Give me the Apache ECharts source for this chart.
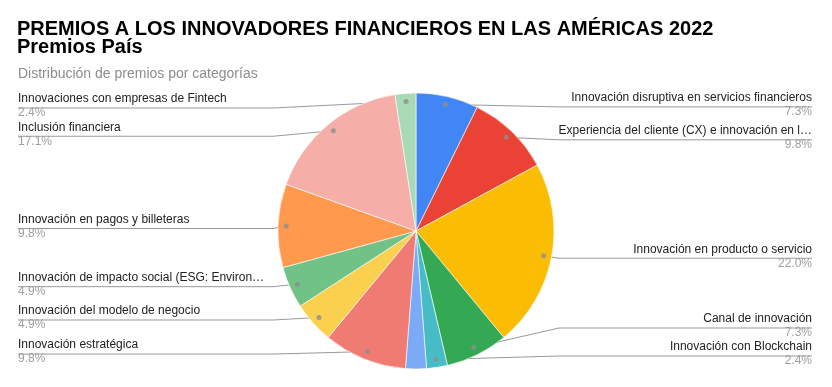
<!DOCTYPE html>
<html>
<head>
<meta charset="utf-8">
<script src="https://cdn.jsdelivr.net/npm/echarts@6/dist/echarts.min.js"></script>
<style>
  html, body { margin: 0; padding: 0; background: #fff; }
  #chart { width: 832px; height: 387px; }
</style>
</head>
<body>
<div id="chart"></div>
<script>
// ---- data ----
const categories = [
  'Innovación disruptiva en servicios financieros',
  'Experiencia del cliente (CX) e innovación en l…',
  'Innovación en producto o servicio',
  'Canal de innovación',
  'Innovación con Blockchain',
  'Otras innovaciones',
  'Innovación estratégica',
  'Innovación del modelo de negocio',
  'Innovación de impacto social (ESG: Environ…',
  'Innovación en pagos y billeteras',
  'Inclusión financiera',
  'Innovaciones con empresas de Fintech'
];
const values = [3, 4, 9, 3, 1, 1, 4, 2, 2, 4, 7, 1];
const hiddenLabel = [false, false, false, false, false, true, false, false, false, false, false, false];
const colors = ['#4285F4', '#EA4335', '#FBBC04', '#34A853', '#46BDC6', '#7BAAF7',
                '#F07B72', '#FCD04F', '#71C287', '#FF994D', '#F6AEA9', '#A8DAB5'];
const titleLines = ['PREMIOS A LOS INNOVADORES FINANCIEROS EN LAS AMÉRICAS 2022', 'Premios País'];
const subtitle = 'Distribución de premios por categorías';

// ---- layout constants ----
const CX = 416, CY = 231, R = 138, DOT_R = 130;
const LEFT = 18, RIGHT = 20;
const NAME_LH = 15, PCT_LH = 13;
const FONT = '"Liberation Sans", Arial, sans-serif';
// label zones: labels crowded near the top / bottom are laid out inside a bounded band
const LABEL_ZONES = [
  { members: [10, 11], top: 92, bottom: 0 },
  { members: [3, 4], top: 0, bottom: 19 },
  { members: null, top: 0, bottom: 0 }   // everything else
];

const total = values.reduce((a, b) => a + b, 0);
const pct = v => (v / total * 100).toFixed(1) + '%';

const pieData = categories.map((c, i) => ({ name: c, value: values[i], itemStyle: { color: colors[i] } }));

// dot positions (mid-angle of each slice) via polar axis
let cum = 0;
const dotData = [];
values.forEach((v, i) => {
  if (!hiddenLabel[i]) dotData.push([DOT_R, cum + v / 2]);
  cum += v;
});

const zoned = new Set();
LABEL_ZONES.forEach(z => z.members && z.members.forEach(m => zoned.add(m)));

function labelSeries(zone) {
  const inZone = i => !hiddenLabel[i] && (zone.members ? zone.members.includes(i) : !zoned.has(i));
  return {
    type: 'pie',
    left: LEFT, top: zone.top, right: RIGHT, bottom: zone.bottom,
    center: [CX - LEFT, CY - zone.top], radius: DOT_R,
    startAngle: 90, clockwise: true,
    silent: true,
    itemStyle: { color: 'rgba(0,0,0,0)' },
    emphasis: { disabled: true },
    label: {
      position: 'outer', alignTo: 'edge', edgeDistance: 0, distanceToLabelLine: 0,
      formatter: p => '{n|' + p.name + '}\n{p|' + pct(p.value) + '}',
      rich: {
        n: { fontFamily: FONT, fontSize: 12, color: '#222222', lineHeight: NAME_LH },
        p: { fontFamily: FONT, fontSize: 12, color: '#9e9e9e', lineHeight: PCT_LH }
      }
    },
    labelLine: { show: true, length: 0, length2: 0, lineStyle: { color: '#999999', width: 1 } },
    labelLayout: function (p) {
      const pts = p.labelLinePoints;
      if (!pts) return {};
      const r = p.labelRect;
      const isLeft = r.x + r.width / 2 < CX;
      const yLine = r.y + NAME_LH;
      const colX = isLeft ? CX - R - 5 : CX + R + 5;
      const farX = isLeft ? r.x : r.x + r.width;
      return { labelLinePoints: [pts[0], [colX, yLine], [farX, yLine]] };
    },
    data: categories.map((c, i) => ({
      name: c, value: values[i],
      label: { show: inZone(i) },
      labelLine: { show: inZone(i) }
    }))
  };
}

const chart = echarts.init(document.getElementById('chart'), null, { renderer: 'canvas' });
chart.setOption({
  animation: false,
  backgroundColor: '#fff',
  textStyle: { fontFamily: FONT },
  title: [
    {
      text: titleLines.join('\n'), left: 17, top: 20, padding: 0,
      textStyle: { fontFamily: FONT, fontSize: 20, fontWeight: 'bold', color: '#000', lineHeight: 18 }
    },
    {
      text: subtitle, left: 18, top: 67, padding: 0,
      textStyle: { fontFamily: FONT, fontSize: 14, fontWeight: 'normal', color: '#8c8c8c', lineHeight: 14 }
    }
  ],
  polar: { center: [CX, CY], radius: R },
  angleAxis: { type: 'value', min: 0, max: total, startAngle: 90, clockwise: true, show: false },
  radiusAxis: { type: 'value', min: 0, max: R, show: false },
  series: [
    {
      type: 'pie',
      left: 0, top: 0, right: 0, bottom: 0,
      center: [CX, CY], radius: R,
      startAngle: 90, clockwise: true,
      silent: true,
      label: { show: false }, labelLine: { show: false },
      itemStyle: { borderColor: '#ffffff', borderWidth: 0.6 },
      emphasis: { disabled: true },
      data: pieData
    }
  ].concat(LABEL_ZONES.map(labelSeries)).concat([
    {
      type: 'scatter',
      coordinateSystem: 'polar',
      silent: true,
      symbol: 'circle', symbolSize: 5,
      itemStyle: { color: '#8f8f8f' },
      data: dotData
    }
  ])
});
</script>
</body>
</html>
